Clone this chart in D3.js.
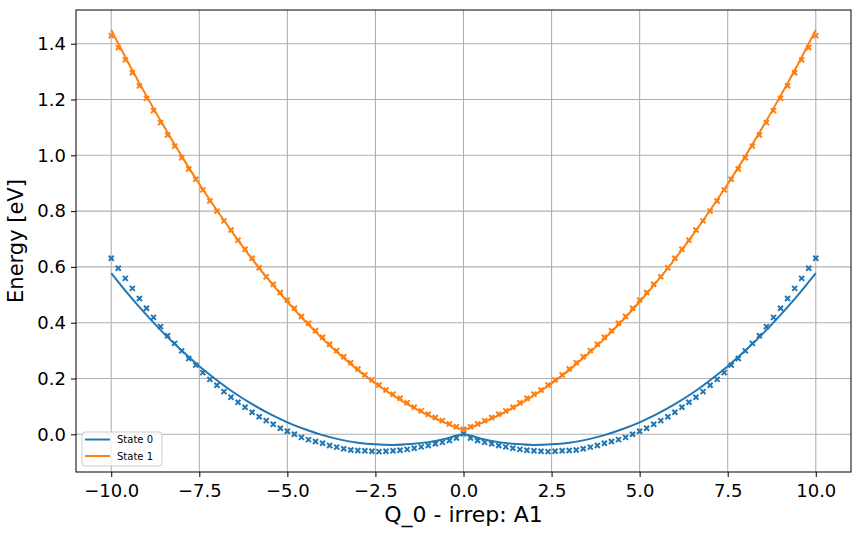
<!DOCTYPE html>
<html>
<head>
<meta charset="utf-8">
<script src="https://cdn.jsdelivr.net/npm/d3@7"></script>
<style>
    body { margin: 0; background: #ffffff; }
    text { font-family: "DejaVu Sans", sans-serif; }
</style>
</head>
<body>
<script>
// sample points (Q values) of the scan
var qPoints = [-10, -9.8, -9.6, -9.4, -9.2, -9, -8.8, -8.6, -8.4, -8.2, -8, -7.8, -7.6, -7.4, -7.2, -7, -6.8, -6.6, -6.4, -6.2,
    -6, -5.8, -5.6, -5.4, -5.2, -5, -4.8, -4.6, -4.4, -4.2, -4, -3.8, -3.6, -3.4, -3.2, -3, -2.8, -2.6, -2.4, -2.2,
    -2, -1.8, -1.6, -1.4, -1.2, -1, -0.8, -0.6, -0.4, -0.2, 0, 0.2, 0.4, 0.6, 0.8, 1, 1.2, 1.4, 1.6, 1.8,
    2, 2.2, 2.4, 2.6, 2.8, 3, 3.2, 3.4, 3.6, 3.8, 4, 4.2, 4.4, 4.6, 4.8, 5, 5.2, 5.4, 5.6, 5.8,
    6, 6.2, 6.4, 6.6, 6.8, 7, 7.2, 7.4, 7.6, 7.8, 8, 8.2, 8.4, 8.6, 8.8, 9, 9.2, 9.4, 9.6, 9.8, 10];

// energies of the scan (markers)
var state0Points = [0.631, 0.595, 0.559, 0.523, 0.487, 0.452, 0.419, 0.386, 0.353, 0.326, 0.299, 0.272, 0.248, 0.221, 0.197, 0.176, 0.153, 0.133, 0.115, 0.097,
    0.079, 0.063, 0.049, 0.036, 0.022, 0.011, 0.000, -0.011, -0.019, -0.026, -0.032, -0.040, -0.046, -0.052, -0.056, -0.058, -0.059, -0.061, -0.062, -0.061,
    -0.059, -0.057, -0.054, -0.050, -0.045, -0.040, -0.034, -0.029, -0.022, -0.013, 0.002, -0.013, -0.022, -0.029, -0.034, -0.040, -0.045, -0.050, -0.054, -0.057,
    -0.059, -0.061, -0.062, -0.061, -0.059, -0.058, -0.056, -0.052, -0.046, -0.040, -0.032, -0.026, -0.019, -0.011, 0.000, 0.011, 0.022, 0.036, 0.049, 0.063,
    0.079, 0.097, 0.115, 0.133, 0.153, 0.176, 0.197, 0.221, 0.248, 0.272, 0.299, 0.326, 0.353, 0.386, 0.419, 0.452, 0.487, 0.523, 0.559, 0.595, 0.631];

var state1Points = [1.429, 1.386, 1.342, 1.296, 1.249, 1.204, 1.160, 1.117, 1.073, 1.033, 0.991, 0.951, 0.914, 0.876, 0.836, 0.800, 0.765, 0.732, 0.696, 0.663,
    0.631, 0.597, 0.565, 0.538, 0.508, 0.481, 0.452, 0.422, 0.398, 0.371, 0.348, 0.323, 0.300, 0.278, 0.257, 0.234, 0.213, 0.195, 0.177, 0.159,
    0.144, 0.129, 0.113, 0.097, 0.084, 0.072, 0.060, 0.049, 0.037, 0.027, 0.018, 0.027, 0.037, 0.049, 0.060, 0.072, 0.084, 0.097, 0.113, 0.129,
    0.144, 0.159, 0.177, 0.195, 0.213, 0.234, 0.257, 0.278, 0.300, 0.323, 0.348, 0.371, 0.398, 0.422, 0.452, 0.481, 0.508, 0.538, 0.565, 0.597,
    0.631, 0.663, 0.696, 0.732, 0.765, 0.800, 0.836, 0.876, 0.914, 0.951, 0.991, 1.033, 1.073, 1.117, 1.160, 1.204, 1.249, 1.296, 1.342, 1.386, 1.429];

// fitted curves (lines)
var qFit = [-10, -9.5, -9, -8.5, -8, -7.5, -7, -6.5, -6, -5.5, -5, -4.5, -4, -3.5, -3, -2.5, -2, -1.5, -1, -0.5,
    0, 0.5, 1, 1.5, 2, 2.5, 3, 3.5, 4, 4.5, 5, 5.5, 6, 6.5, 7, 7.5, 8, 8.5, 9, 9.5, 10];

var state0Fit = [0.578, 0.500, 0.428, 0.361, 0.300, 0.244, 0.194, 0.148, 0.108, 0.073, 0.043, 0.018, -0.003, -0.019, -0.030, -0.036, -0.038, -0.035, -0.028, -0.016,
    0.000, -0.016, -0.028, -0.035, -0.038, -0.036, -0.030, -0.019, -0.003, 0.018, 0.043, 0.073, 0.108, 0.148, 0.194, 0.244, 0.300, 0.361, 0.428, 0.500, 0.578];

var state1Fit = [1.449, 1.328, 1.213, 1.103, 0.997, 0.897, 0.803, 0.713, 0.628, 0.549, 0.475, 0.406, 0.342, 0.284, 0.230, 0.182, 0.139, 0.101, 0.068, 0.040,
    0.018, 0.040, 0.068, 0.101, 0.139, 0.182, 0.230, 0.284, 0.342, 0.406, 0.475, 0.549, 0.628, 0.713, 0.803, 0.897, 0.997, 1.103, 1.213, 1.328, 1.449];

var seriesNames = ["State 0", "State 1"];
var xTicks = [-10, -7.5, -5, -2.5, 0, 2.5, 5, 7.5, 10];
var yTicks = [0, 0.2, 0.4, 0.6, 0.8, 1.0, 1.2, 1.4];

// marges en grootte
var margin = { top: 10, right: 10, bottom: 65, left: 76 },
    width = 861 - margin.left - margin.right,
    height = 537 - margin.top - margin.bottom;

var color = d3.scaleOrdinal()
    .domain(seriesNames)
    .range(["#1f77b4", "#ff7f0e"]);

var x = d3.scaleLinear().domain([-11, 11]).range([0, width]);
var y = d3.scaleLinear().domain([-0.1351, 1.5208]).range([height, 0]);

var svg = d3.select("body").append("svg")
    .attr("width", 861)
    .attr("height", 537)
    .append("g")
    .attr("transform", "translate(" + margin.left + "," + margin.top + ")");

// grid
svg.append("g").selectAll("line")
    .data(xTicks)
    .enter().append("line")
    .attr("x1", function (d) { return x(d); })
    .attr("x2", function (d) { return x(d); })
    .attr("y1", 0)
    .attr("y2", height)
    .attr("stroke", "#b0b0b0")
    .attr("stroke-width", 1.1);

svg.append("g").selectAll("line")
    .data(yTicks)
    .enter().append("line")
    .attr("y1", function (d) { return y(d); })
    .attr("y2", function (d) { return y(d); })
    .attr("x1", 0)
    .attr("x2", width)
    .attr("stroke", "#b0b0b0")
    .attr("stroke-width", 1.1);

// assen
var xAxis = svg.append("g")
    .attr("transform", "translate(0," + height + ")")
    .call(d3.axisBottom(x).tickValues(xTicks).tickFormat(d3.format(".1f")).tickSize(5).tickPadding(7));

var yAxis = svg.append("g")
    .call(d3.axisLeft(y).tickValues(yTicks).tickFormat(d3.format(".1f")).tickSize(5).tickPadding(5));

[xAxis, yAxis].forEach(function (a) {
    a.select(".domain").remove();
    a.selectAll("text").style("font-size", "18px").attr("fill", "#000");
    a.selectAll("line").attr("stroke", "#000");
});

// lijnen (fit)
var line = d3.line()
    .x(function (d) { return x(d.q); })
    .y(function (d) { return y(d.e); })
    .curve(d3.curveMonotoneX);

var fits = [state0Fit, state1Fit];
fits.forEach(function (vals, i) {
    var pts = qFit.map(function (q, j) { return { q: q, e: vals[j] }; });
    svg.append("path")
        .datum(pts)
        .attr("d", line)
        .attr("fill", "none")
        .attr("stroke", color(seriesNames[i]))
        .attr("stroke-width", 2);
});

// markers (x)
var scans = [state0Points, state1Points];
var s = 2.5;
scans.forEach(function (vals, i) {
    svg.append("g").selectAll("path")
        .data(qPoints.map(function (q, j) { return { q: q, e: vals[j] }; }))
        .enter().append("path")
        .attr("transform", function (d) { return "translate(" + x(d.q) + "," + y(d.e) + ")"; })
        .attr("d", "M" + (-s) + "," + (-s) + "L" + s + "," + s + "M" + (-s) + "," + s + "L" + s + "," + (-s))
        .attr("stroke", color(seriesNames[i]))
        .attr("stroke-width", 2)
        .attr("fill", "none");
});

// kader
svg.append("rect")
    .attr("width", width)
    .attr("height", height)
    .attr("fill", "none")
    .attr("stroke", "#000")
    .attr("stroke-width", 1);

// labels
svg.append("text")
    .attr("x", width / 2)
    .attr("y", height + 50)
    .attr("text-anchor", "middle")
    .style("font-size", "22px")
    .text("Q_0 - irrep: A1");

svg.append("text")
    .attr("transform", "translate(" + (-53) + "," + (height / 2) + ") rotate(-90)")
    .attr("text-anchor", "middle")
    .style("font-size", "21px")
    .text("Energy [eV]");

// legenda
var legend = svg.append("g")
    .attr("transform", "translate(6," + (height - 40) + ")");

legend.append("rect")
    .attr("width", 80)
    .attr("height", 34)
    .attr("rx", 3)
    .attr("fill", "#fff")
    .attr("fill-opacity", 0.8)
    .attr("stroke", "#cccccc")
    .attr("stroke-width", 1);

var item = legend.selectAll(".item")
    .data(seriesNames)
    .enter().append("g")
    .attr("class", "item")
    .attr("transform", function (d, i) { return "translate(0," + (7.5 + i * 16.5) + ")"; });

item.append("line")
    .attr("x1", 3)
    .attr("x2", 28)
    .attr("stroke", function (d) { return color(d); })
    .attr("stroke-width", 2);

item.append("text")
    .attr("x", 35)
    .attr("dy", "0.35em")
    .style("font-size", "10px")
    .text(function (d) { return d; });
</script>
</body>
</html>
